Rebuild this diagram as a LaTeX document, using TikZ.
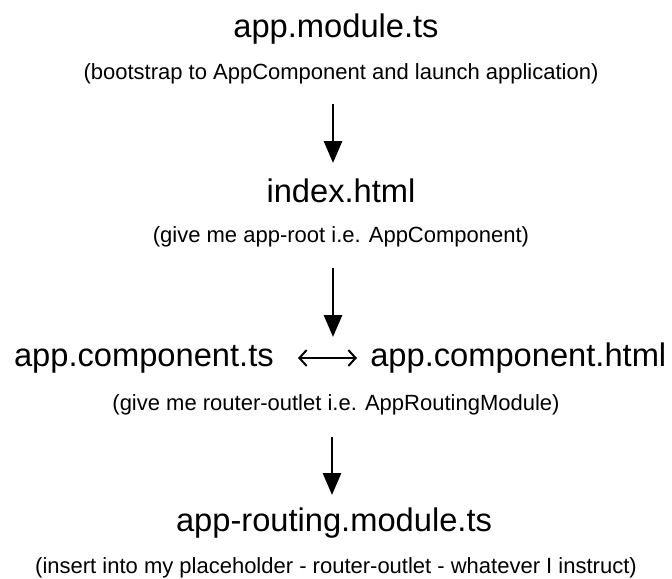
\documentclass[tikz,border=0pt]{standalone}
\usepackage{fontspec}
\setmainfont{Liberation Sans}
\usetikzlibrary{arrows.meta,positioning}

\tikzset{
  title/.style={font=\fontsize{24.5}{29}\selectfont, inner sep=0pt, anchor=base},
  note/.style={font=\fontsize{16.5}{20}\selectfont, inner sep=0pt, anchor=base},
  flow/.style={line width=2.2pt, -{Stealth[length=16.5pt,width=13.5pt,inset=0pt]}},
  link/.style={line width=1.5pt, {Straight Barb[length=5.5pt,width=12pt]}-{Straight Barb[length=5.5pt,width=12pt]}}
}

\begin{document}
\begin{tikzpicture}[x=0.75pt,y=-0.75pt]
\useasboundingbox (0,0) rectangle (672,579);
% module
\node[title] (module) at (336,37) {app.module.ts};
\node[note] (modnote) at (341,79) {(bootstrap to AppComponent and launch application)};
% index
\node[title] (index) at (341,202) {index.html};
\node[note] (idxnote) at (341,242) {(give me app-root i.e. AppComponent)};
% component
\node[title,anchor=base east] (compts) at (274,366) {app.component.ts};
\node[title,anchor=base west] (comphtml) at (370,366) {app.component.html};
\node[note] (compnote) at (336,410) {(give me router-outlet i.e. AppRoutingModule)};
% routing
\node[title] (routing) at (334,531) {app-routing.module.ts};
\node[note] (routenote) at (336,573) {(insert into my placeholder - router-outlet - whatever I instruct)};
\coordinate (a1) at (333,104); \coordinate (b1) at (333,163);
\coordinate (a2) at (333,268); \coordinate (b2) at (333,337);
\coordinate (a3) at (332,437); \coordinate (b3) at (332,495);
\draw[flow] (a1) -- (b1);
\draw[flow] (a2) -- (b2);
\draw[flow] (a3) -- (b3);
\draw[link] ([xshift=18pt,yshift=6pt]compts.base east) -- ([xshift=-9.75pt,yshift=6pt]comphtml.base west);
\end{tikzpicture}
\end{document}
